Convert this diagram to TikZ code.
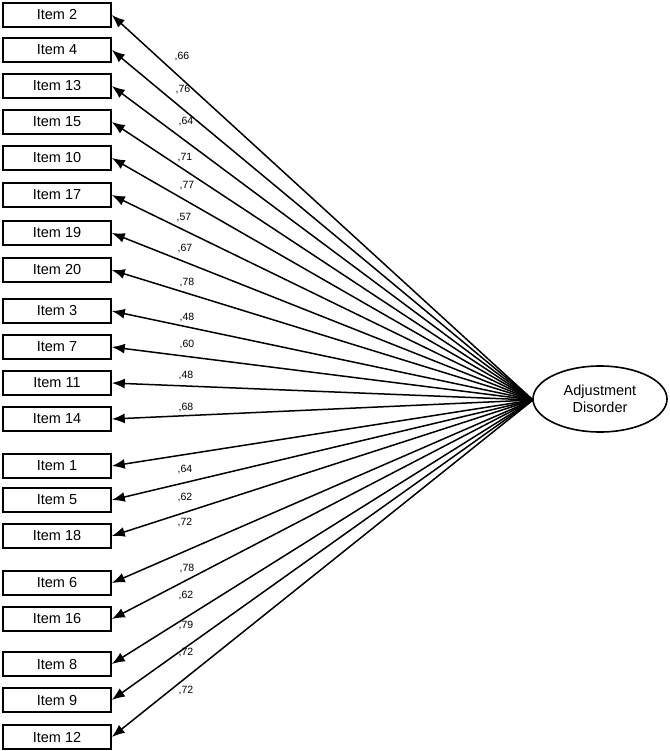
\documentclass[tikz,border=0pt]{standalone}
\usepackage{fontspec}
\setmainfont{Liberation Sans}
\usetikzlibrary{arrows.meta,shapes.geometric}
\newcommand\boxfont{\fontsize{14.5}{17}\selectfont}
\newcommand\lblfont{\fontsize{10.5}{12}\selectfont}
\begin{document}
\begin{tikzpicture}[x=1pt,y=-1pt,
  itembox/.style={draw,line width=1.6pt,minimum width=108pt,minimum height=24pt,inner sep=0pt,font=\boxfont},
  lat/.style={draw,line width=1.6pt,ellipse,minimum width=134pt,minimum height=66pt,align=center,font=\boxfont,inner sep=0pt},
  arr/.style={-{Latex[length=13pt,width=10pt]},line width=1.5pt},
  lbl/.style={font=\lblfont,inner sep=0pt}]
\useasboundingbox (0,0) rectangle (669,751);
\node[lat] (ad) at (600,399) {Adjustment\\Disorder};
\coordinate (o) at (533,400);
\foreach \name/\y/\l/\lx/\ly [count=\i] in {
 Item 2/15/{,66}/182/57, Item 4/50/{,76}/183/90, Item 13/86/{,64}/186/122, Item 15/122/{,71}/185/158,
 Item 10/158/{,77}/187/186, Item 17/195/{,57}/184/218, Item 19/233/{,67}/185/249, Item 20/270/{,78}/187/283,
 Item 3/311/{,48}/187/318, Item 7/347/{,60}/187/345, Item 11/383/{,48}/186/376, Item 14/419/{,68}/186/408,
 Item 1/466/{,64}/185/470, Item 5/500/{,62}/185/498, Item 18/536/{,72}/185/522, Item 6/583/{,78}/187/568,
 Item 16/619/{,62}/186/595, Item 8/664/{,79}/186/625, Item 9/700/{,72}/186/652, Item 12/737/{,72}/186/690}{
  \node[itembox] (b\i) at (57,\y) {\name};
  \draw[arr] (o) -- (b\i.east);
  \node[lbl] (l\i) at (\lx,\ly) {\l};
}
\end{tikzpicture}
\end{document}
